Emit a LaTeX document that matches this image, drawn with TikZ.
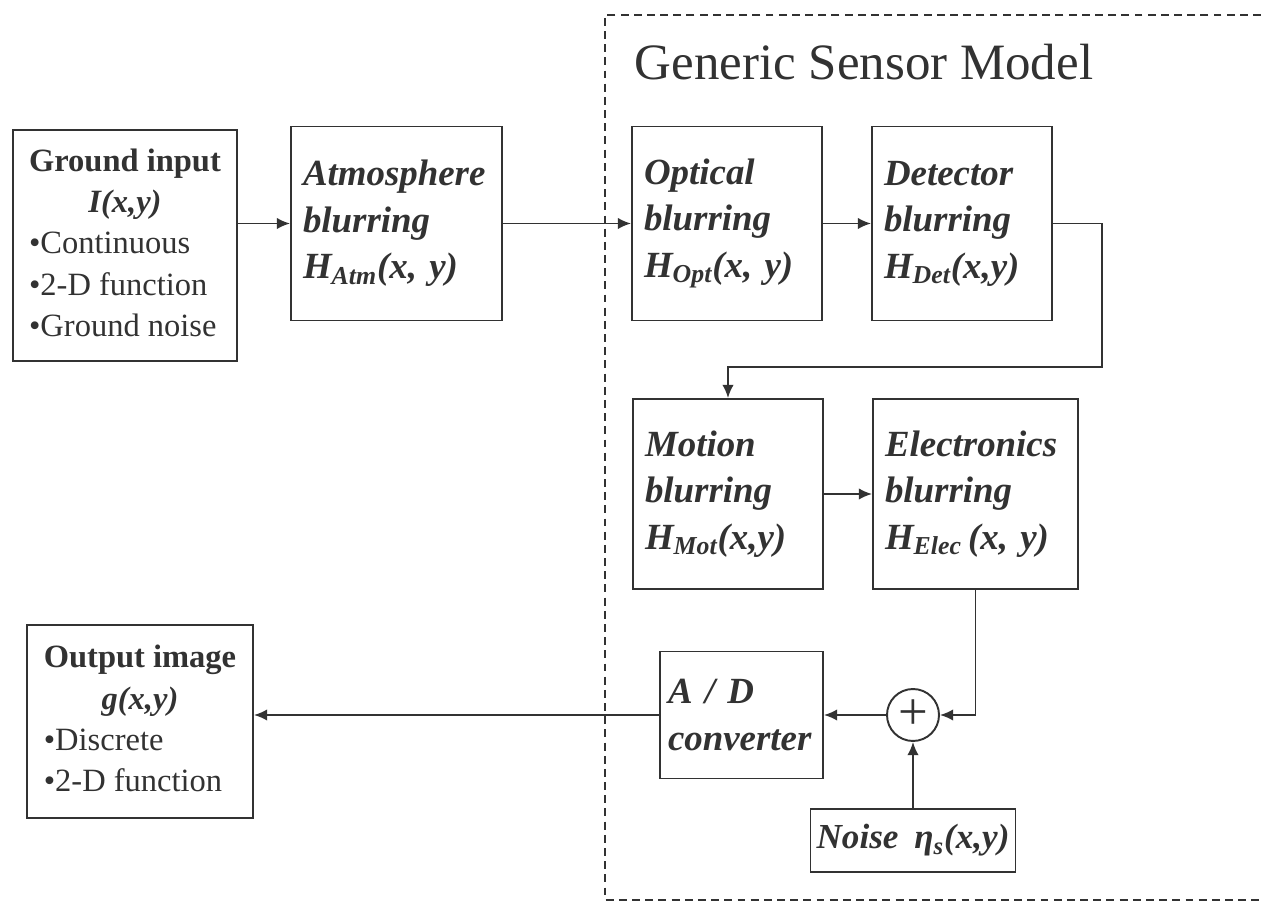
\documentclass[tikz,border=0pt]{standalone}
\usepackage{fontspec}
\setmainfont{Liberation Serif}
\usetikzlibrary{arrows.meta}

\definecolor{ink}{RGB}{50,50,50}

\tikzset{
    blurbox/.style={draw=ink,line width=1.1pt,inner xsep=0.24cm,align=left,text=ink,
        font=\fontsize{21}{26.5}\selectfont\bfseries\itshape},
    listbox/.style={draw=ink,line width=1.1pt,inner sep=0pt,text=ink,
        font=\fontsize{18.5}{23.5}\selectfont},
    sig/.style={draw=ink,line width=1.1pt,-{Latex[length=7.5pt,width=6.5pt]}}
}

\begin{document}
\begin{tikzpicture}[x=0.02cm,y=-0.02cm]
        \useasboundingbox (0,0) rectangle (1261,911);

        % sensor frame
        \draw[ink,line width=1.1pt,dash pattern=on 4.5pt off 3pt] (1261,15) -| (605,900) -- (1261,900);
        \node[text=ink,font=\fontsize{29}{34}\selectfont] (title) at (864,62) {Generic Sensor Model};

        \node[listbox,minimum width=4.48cm,minimum height=4.62cm] (gin) at (125,245.5)
            {\begin{tabular}{@{}l@{}}
             \multicolumn{1}{@{}c@{}}{\textbf{Ground input}}\\
             \multicolumn{1}{@{}c@{}}{\textbf{\textit{I(x,y)}}}\\
             •Continuous\\
             •2-D function\\
             •Ground noise
             \end{tabular}};
        \node[blurbox,text width=3.74cm,minimum height=3.88cm] (atm)  at (396.5,223.5) {Atmosphere\\blurring\\H\textsubscript{Atm}(x, y)};
        \node[blurbox,text width=3.32cm,minimum height=3.88cm] (opt)  at (727,223.5)   {Optical\\blurring\\H\textsubscript{Opt}(x, y)};
        \node[blurbox,text width=3.12cm,minimum height=3.88cm] (det)  at (962,223.5)   {Detector\\blurring\\H\textsubscript{Det}(x,y)};
        \node[blurbox,text width=3.32cm,minimum height=3.8cm]  (mot)  at (728,494)     {Motion\\blurring\\H\textsubscript{Mot}(x,y)};
        \node[blurbox,text width=3.62cm,minimum height=3.8cm]  (elec) at (975.5,494)   {Electronics\\blurring\\H\textsubscript{Elec}\,(x, y)};
        \node[draw=ink,line width=1.1pt,circle,minimum size=1.04cm,inner sep=0pt,text=ink,
              font=\fontsize{30}{30}\selectfont] (sum) at (913,715) {+};
        \node[blurbox,text width=2.94cm,minimum height=2.54cm,inner xsep=0.16cm] (adc) at (741.5,715) {A / D\\converter};
        \node[blurbox,minimum width=4.1cm,minimum height=1.26cm,inner xsep=1pt,
              font=\fontsize{20}{24}\selectfont\bfseries\itshape] (noise) at (913,840.5)
            {Noise\hspace{0.45em}η\textsubscript{s}(x,y)};
        \node[listbox,minimum width=4.52cm,minimum height=3.86cm] (out) at (140,721.5)
            {\begin{tabular}{@{}l@{}}
             \multicolumn{1}{@{}c@{}}{\textbf{Output image}}\\
             \multicolumn{1}{@{}c@{}}{\textbf{\textit{g(x,y)}}}\\
             •Discrete\\
             •2-D function
             \end{tabular}};
        \coordinate (turn) at (1102,367);

        \draw [sig] (gin.east |- atm.west) -- (atm.west);
        \draw [sig] (atm) -- (opt);
        \draw [sig] (opt) -- (det);
        \draw [sig] (det.east) -| (turn) -| (mot.north);
        \draw [sig] (mot) -- (elec);
        \draw [sig] (elec.south) |- (sum.east);
        \draw [sig] (noise) -- (sum);
        \draw [sig] (sum) -- (adc);
        \draw [sig] (adc.west) -- (adc.west -| out.east);
    \end{tikzpicture}
\end{document}
